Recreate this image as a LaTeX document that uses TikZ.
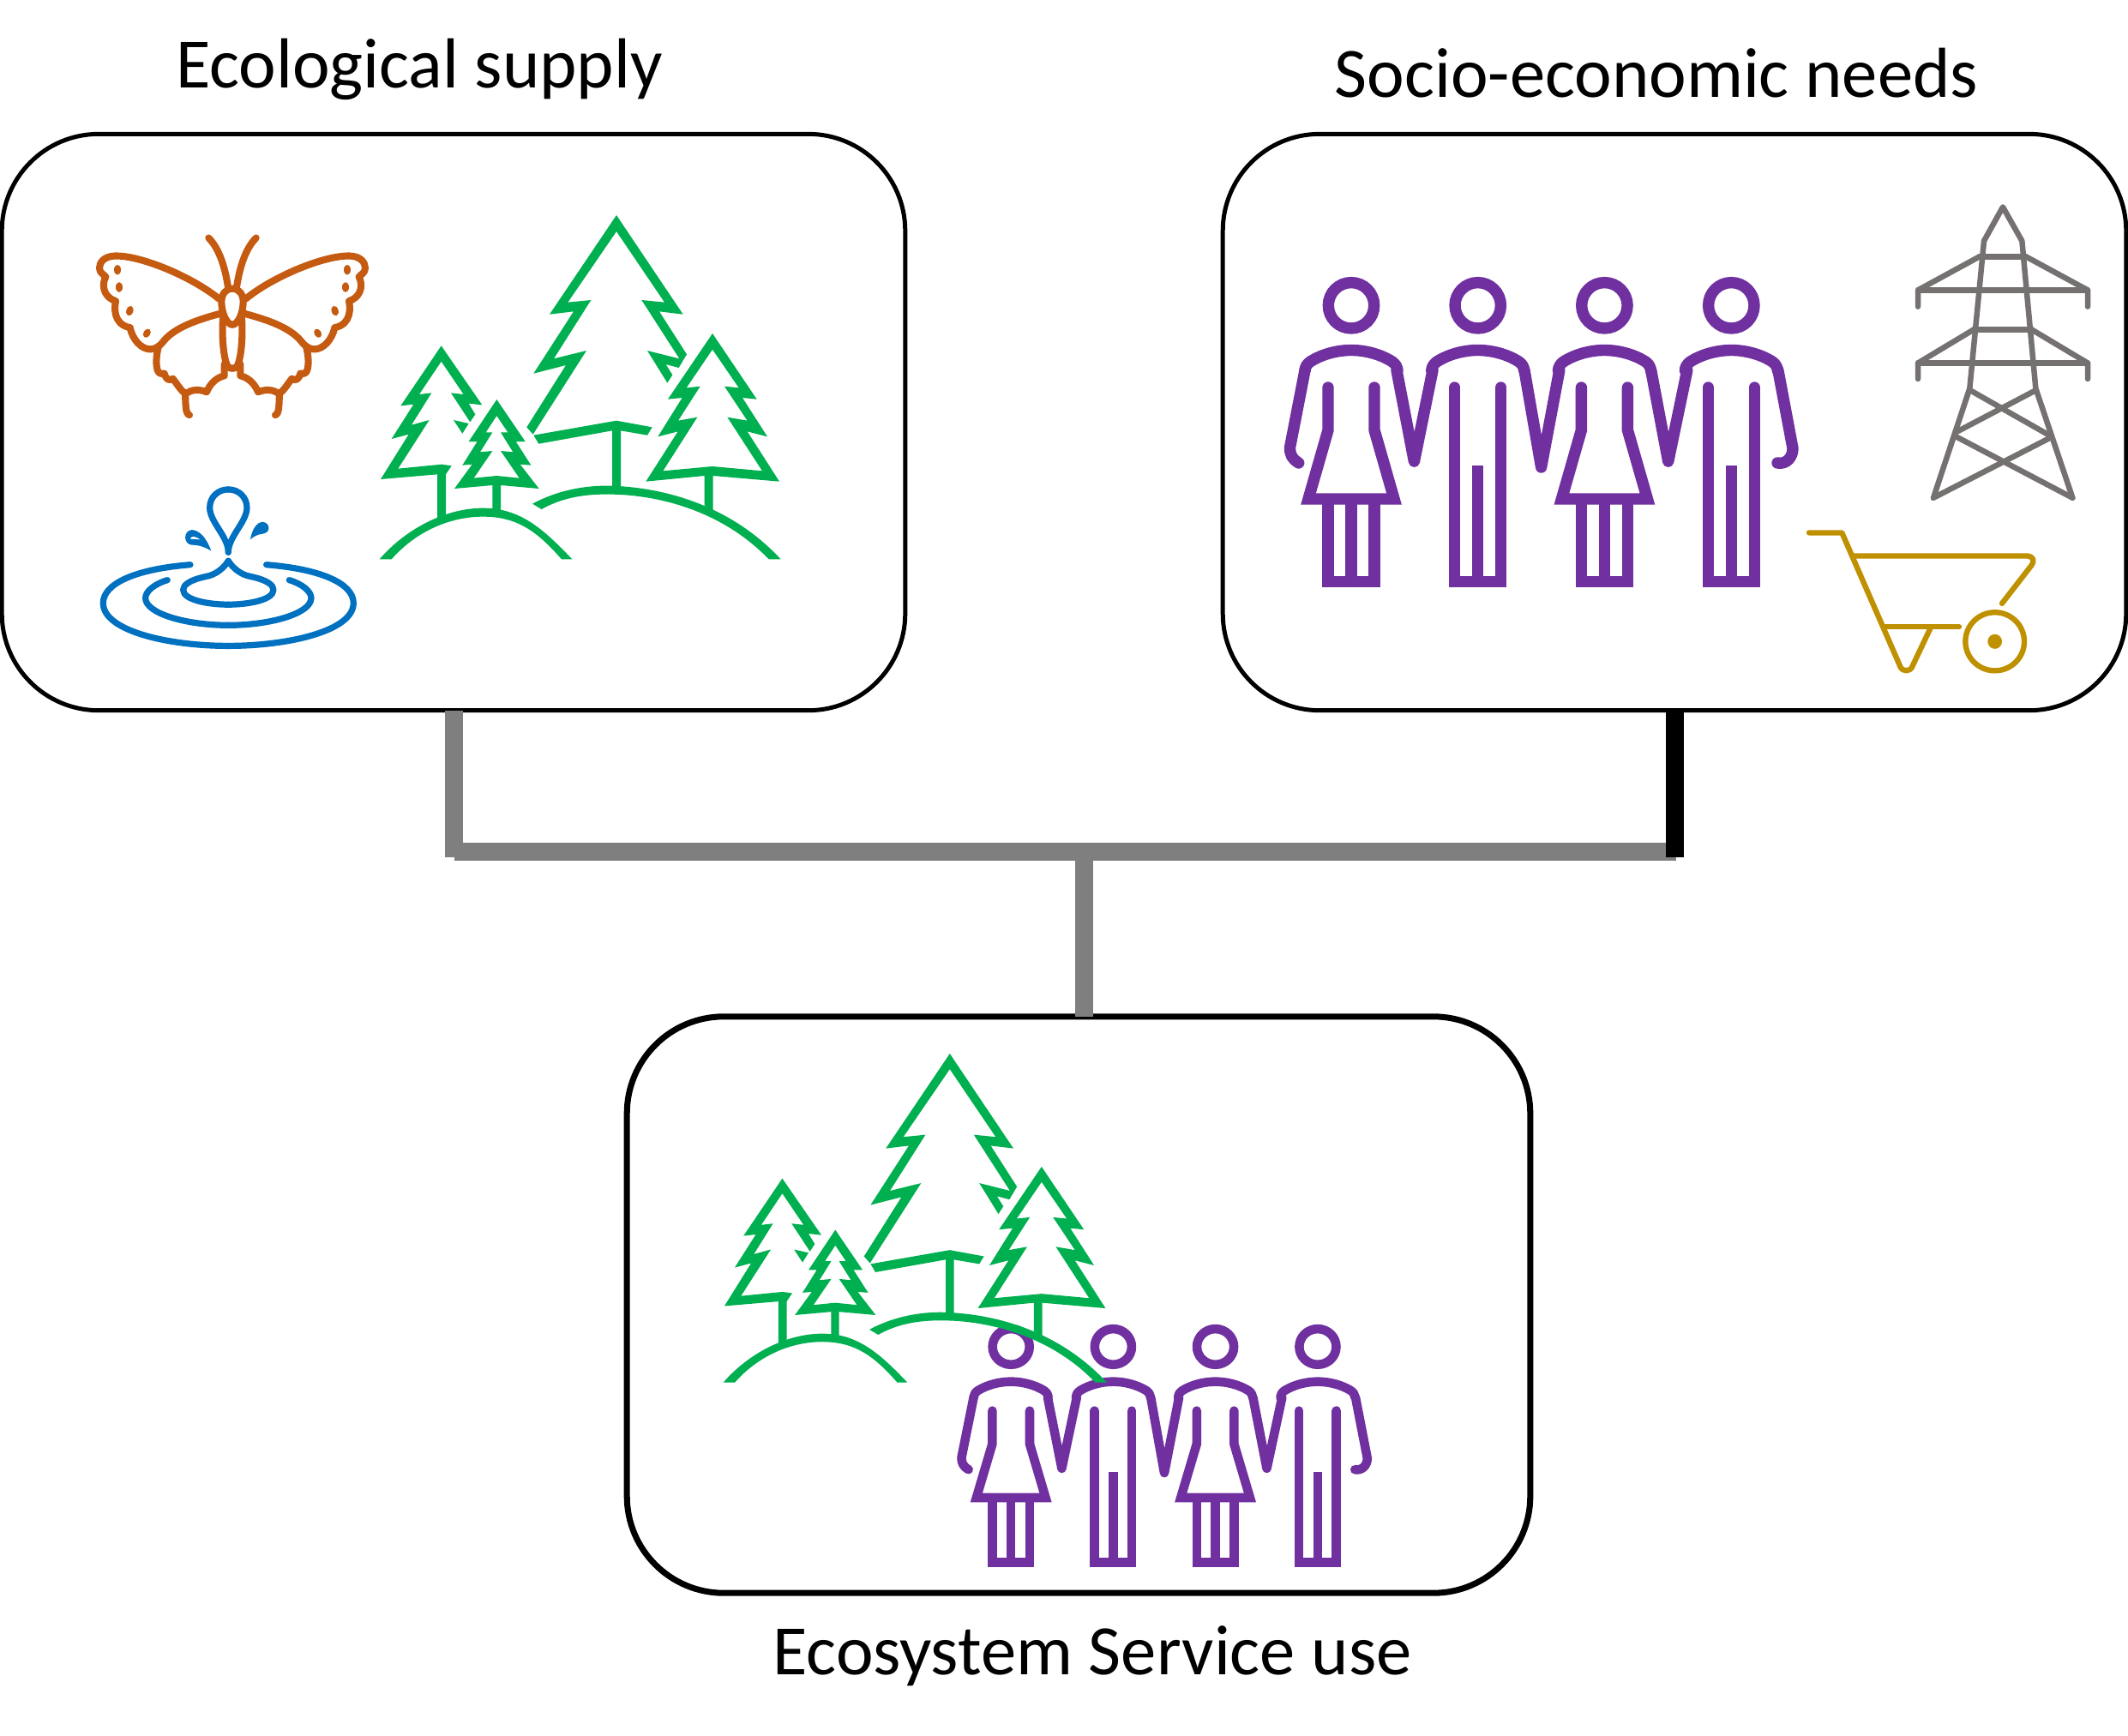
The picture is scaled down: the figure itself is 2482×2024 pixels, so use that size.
\documentclass[tikz,border=0pt]{standalone}
\usepackage{fontspec}
\setmainfont{Carlito}
\definecolor{wingOrange}{HTML}{C55A11}
\definecolor{waterBlue}{HTML}{0070C0}
\definecolor{treeGreen}{HTML}{00B050}
\definecolor{crowdPurple}{HTML}{7030A0}
\definecolor{pylonGray}{HTML}{767171}
\definecolor{barrowGold}{HTML}{BF9000}
\definecolor{pipeGray}{HTML}{7F7F7F}
\tikzset{
  panel/.style={draw=black,line width=1.42pt,fill=white,rounded corners=1.13cm,
    minimum width=10.53cm,minimum height=6.72cm,inner sep=0pt,outer sep=0pt},
  pipe/.style={pipeGray,line width=5.97pt},
  tag/.style={font=\fontsize{23.5}{27}\selectfont,inner sep=0pt},
  icon/.style={line cap=round,line join=round}
}
% people: origin, xscale, yscale, line width
\newcommand{\peopleIcon}[4]{
\begin{scope}[shift={#1},xscale=#2,yscale=#3,crowdPurple,line width=#4]
  \foreach \cx in {96,243.7,391.4,539.3}{
    \draw (\cx,56.3) circle [radius=26.7];
    \draw[icon] (\cx-54,132) .. controls (\cx-53.5,128) and (\cx-52,125) .. (\cx-48,122)
      .. controls (\cx-34,113) and (\cx-16,108.5) .. (\cx,108.5)
      .. controls (\cx+16,108.5) and (\cx+34,113) .. (\cx+48,122)
      .. controls (\cx+52,125) and (\cx+53.5,128) .. (\cx+54,132);
  }
  % arms
  \draw[icon] (34.7,240) .. controls (26.5,235) and (24.5,230) .. (24.5,222) -- (42,132);
  \draw[icon] (149,132) -- (169.4,238.3) -- (191,132);
  \draw[icon] (298,132) -- (317.6,245) -- (338.8,132);
  \draw[icon] (445.7,132) -- (465.7,238.3) -- (487.8,132);
  \draw[icon] (593.9,132) -- (611,223) .. controls (611,233) and (604,242) .. (593,240);
  % women
  \foreach \cx in {96,391.4}{
    \draw[line cap=round,miter limit=10] (\cx-27,152) -- (\cx-27,201.7) -- (\cx-50,282) -- (\cx+50,282) -- (\cx+27,201.7) -- (\cx+27,152);
    \draw[miter limit=10] (\cx-27,282) -- (\cx-27,378.5) -- (\cx+27,378.5) -- (\cx+27,282);
    \draw (\cx,282) -- (\cx,378.5);
  }
  % men
  \foreach \cx in {243.7,539.3}{
    \draw[line cap=round] (\cx-27,152) -- (\cx-27,378.5) -- (\cx+27,378.5) -- (\cx+27,152);
    \draw (\cx,243.3) -- (\cx,378.5);
  }
\end{scope}
}
% forest: origin, scale
\newcommand{\forestIcon}[2]{
\begin{scope}[shift={#1},scale=#2/3,treeGreen]
  % big tree
  \fill (553,775) -- (690,558) -- (577,587) -- (717,370) -- (633,380) -- (867,33) -- (1100,380) -- (1017,370)
    -- (1113,520) -- (1085,567) -- (1040,555) -- (1063,592) -- (1045,620) -- (975,507) -- (1087,535) -- (955,330)
    -- (1035,338) -- (867,90) -- (697,338) -- (778,330) -- (648,535) -- (762,507) -- (575,800) -- cycle;
  \fill (577,803) -- (867,752) -- (992,775) -- (975,803) -- (882,787) -- (882,985) -- (852,985) -- (852,787) -- (595,833) -- cycle;
  % right hill
  \fill (573,1043) .. controls (680,985) and (790,978) .. (850,980) .. controls (1000,985) and (1250,1030) .. (1442,1237)
    -- (1400,1237) .. controls (1230,1060) and (1000,1012) .. (850,1010) .. controls (760,1008) and (680,1020) .. (605,1062) -- cycle;
  % right tree
  \fill[even odd rule] (1203,447) -- (1358,677) -- (1308,672) -- (1395,808) -- (1325,790) -- (1437,965) -- (1205,945)
    -- (1205,1065) -- (1175,1050) -- (1175,945) -- (970,965) -- (1082,790) -- (1012,808) -- (1097,672) -- (1047,677) -- cycle
    (1203,503) -- (1295,637) -- (1245,632) -- (1325,752) -- (1255,740) -- (1377,928) -- (1203,912) -- (1030,928)
    -- (1150,740) -- (1083,752) -- (1160,632) -- (1112,637) -- cycle;
  % left tree
  \fill (254,490) -- (397,697) -- (350,692) -- (373,730) -- (355,757) -- (288,655) -- (332,660) -- (254,545) -- (177,660)
    -- (220,655) -- (150,767) -- (212,750) -- (103,920) -- (255,905) -- (290,910) -- (270,940) -- (270,1085) -- (240,1098)
    -- (240,940) -- (42,957) -- (140,800) -- (80,816) -- (157,695) -- (112,700) -- cycle;
  \fill (297,750) -- (350,762) -- (328,797) -- cycle;
  % small tree
  \fill[even odd rule] (448,678) -- (548,825) -- (515,825) -- (568,908) -- (530,905) -- (596,990) -- (462,978) -- (462,1065)
    -- (433,1065) -- (433,978) -- (300,990) -- (362,905) -- (328,908) -- (380,825) -- (350,825) -- cycle
    (448,735) -- (487,793) -- (462,793) -- (505,862) -- (462,858) -- (527,953) -- (448,945) -- (368,953) -- (433,858)
    -- (390,862) -- (433,793) -- (410,793) -- cycle;
  % left hill
  \fill (38,1237) .. controls (130,1130) and (270,1058) .. (400,1058) .. controls (530,1058) and (610,1130) .. (712,1237)
    -- (675,1237) .. controls (590,1140) and (520,1088) .. (400,1088) .. controls (290,1088) and (170,1135) .. (80,1237) -- cycle;
\end{scope}
}
\begin{document}
\begin{tikzpicture}[x=0.01cm,y=-0.01cm]
\useasboundingbox (0,0) rectangle (2482,2024);

% boxes
\node[panel] (ecoBox) at (529,492.5) {};
\node[panel] (socBox) at (1953,492.5) {};
\node[panel,line width=2pt] (useBox) at (1258,1522) {};

% titles
\node[tag] (ecoTag) at (489,81) {Ecological supply};
\node[tag] (socTag) at (1932,85) {Socio-economic needs};
\node[tag] (useTag) at (1274,1932) {Ecosystem Service use};

% connectors
\coordinate (ecoEnd) at (529.5,1000);
\coordinate (socEnd) at (1952.5,1000);
\coordinate (busLeft) at (529.5,993.5);
\coordinate (busRight) at (1955,993.5);
\coordinate (busMid) at (1264.5,993.5);
\draw[pipe] (ecoEnd -| ecoBox.south) -- (ecoBox.south);
\draw[pipe] (busLeft) -- (busRight);
\draw[pipe] (busMid) -- (busMid |- useBox.north);
\draw[pipe,black] (socBox.south) -- (socEnd -| socBox.south);

% butterfly
\begin{scope}[shift={(271,230)},xscale=1/3,yscale=1/2.904,wingOrange,line width=2.3pt]
  \foreach \s in {1,-1}{
  \begin{scope}[xscale=\s]
    \draw[icon] (-46,345) .. controls (-140,270) and (-320,197) .. (-410,199)
      .. controls (-450,200) and (-465,222) .. (-465,240)
      .. controls (-465,258) and (-448,262) .. (-443,270)
      .. controls (-455,290) and (-458,335) .. (-408,352)
      .. controls (-412,370) and (-420,430) .. (-358,442)
      .. controls (-350,480) and (-320,515) .. (-288,515)
      .. controls (-265,515) and (-250,500) .. (-240,487)
      .. controls (-200,440) and (-120,415) .. (-45,395);
    \draw[icon] (-258,505) .. controls (-268,540) and (-268,575) .. (-260,590)
      .. controls (-255,600) and (-245,598) .. (-238,597)
      .. controls (-232,620) and (-220,622) .. (-208,615)
      .. controls (-195,630) and (-185,650) .. (-165,665)
      .. controls (-163,700) and (-165,735) .. (-150,738);
    \draw[icon] (-165,668) .. controls (-145,650) and (-115,650) .. (-90,660)
      .. controls (-75,625) and (-50,610) .. (-28,605) -- (-28,565);
    \draw[icon] (0,310) .. controls (-25,310) and (-38,330) .. (-38,355) .. controls (-38,390) and (-20,432) .. (0,432);
    \draw[icon] (-33,410) .. controls (-37,470) and (-32,540) .. (-18,570) .. controls (-12,580) and (-6,580) .. (0,580);
    \draw[icon] (-83,138) .. controls (-45,175) and (-25,240) .. (-15,305);
    \fill (-402,246) ellipse [x radius=12,y radius=17];
    \fill (-396,305) ellipse [x radius=12,y radius=17];
    \fill (-359,385) ellipse [x radius=12,y radius=17,rotate=-20];
    \fill (-299,461) ellipse [x radius=12,y radius=16,rotate=-35];
  \end{scope}
  }
\end{scope}

% water
\begin{scope}[shift={(266.3,230)},xscale=1/3,yscale=1/2.904,waterBlue,line width=2.05pt]
  \foreach \s in {1,-1}{
  \begin{scope}[xscale=\s]
    \draw[icon] (0,1203) .. controls (0,1150) and (-65,1100) .. (-65,1052) .. controls (-65,1015) and (-35,990) .. (0,990);
    \draw[icon] (0,1232) .. controls (-18,1260) and (-48,1280) .. (-78,1285) .. controls (-138,1297) and (-158,1315) .. (-158,1330) .. controls (-158,1365) and (-68,1380) .. (0,1380);
    \draw[icon] (-213,1297) .. controls (-258,1310) and (-290,1335) .. (-290,1358) .. controls (-290,1410) and (-148,1450) .. (0,1450);
    \draw[icon] (-133,1245) .. controls (-328,1260) and (-438,1310) .. (-438,1375) .. controls (-438,1470) and (-208,1520) .. (0,1520);
  \end{scope}
  }
  \fill (77,1160) .. controls (82,1130) and (97,1100) .. (122,1100) .. controls (147,1105) and (149,1135) .. (122,1140) .. controls (102,1142) and (87,1150) .. (77,1160) -- cycle;
  \fill[even odd rule] (-60,1198) .. controls (-78,1150) and (-103,1128) .. (-128,1127) .. controls (-158,1130) and (-158,1175) .. (-128,1178) .. controls (-98,1178) and (-78,1188) .. (-60,1198) -- cycle
    (-133,1158) .. controls (-133,1148) and (-118,1145) .. (-98,1160) -- cycle;
\end{scope}

% pylon
\begin{scope}[shift={(2090,220)},xscale=1/3,yscale=1/2.703,pylonGray,line width=1.85pt,icon]
  \draw (495,975) -- (622,630) -- (672,165) -- (738,58) -- (805,165) -- (853,630) -- (982,975);
  \draw (655,215) -- (820,215);
  \draw (441,372) -- (441,320) -- (655,215);
  \draw (1035,372) -- (1035,320) -- (820,215);
  \draw (441,320) -- (1035,320);
  \draw (635,445) -- (840,445);
  \draw (441,600) -- (441,550) -- (635,445);
  \draw (1035,600) -- (1035,550) -- (840,445);
  \draw (441,550) -- (1035,550);
  \draw (622,635) -- (905,780);
  \draw (855,635) -- (570,770);
  \draw (570,780) -- (982,975);
  \draw (905,785) -- (495,975);
\end{scope}

% wheelbarrow
\begin{scope}[shift={(2090,220)},xscale=1/3,yscale=1/2.703,barrowGold,line width=1.8pt,icon]
  \draw (60,1085) -- (175,1085) -- (378,1505) .. controls (385,1525) and (415,1525) .. (422,1505) -- (485,1385);
  \draw (215,1158) -- (825,1158) .. controls (845,1160) and (850,1175) .. (838,1188) -- (735,1308);
  \draw (325,1382) -- (585,1382);
  \draw (710,1428) ellipse [x radius=103,y radius=92];
  \fill (710,1428) ellipse [x radius=25,y radius=23];
\end{scope}

% crowds and forests
\peopleIcon{(1480,300)}{1}{1}{3.8pt}
\forestIcon{(430,240)}{1}
\peopleIcon{(1101.7,1527)}{0.807}{0.78}{3pt}
\forestIcon{(831.5,1218.5)}{0.956}
\end{tikzpicture}
\end{document}
